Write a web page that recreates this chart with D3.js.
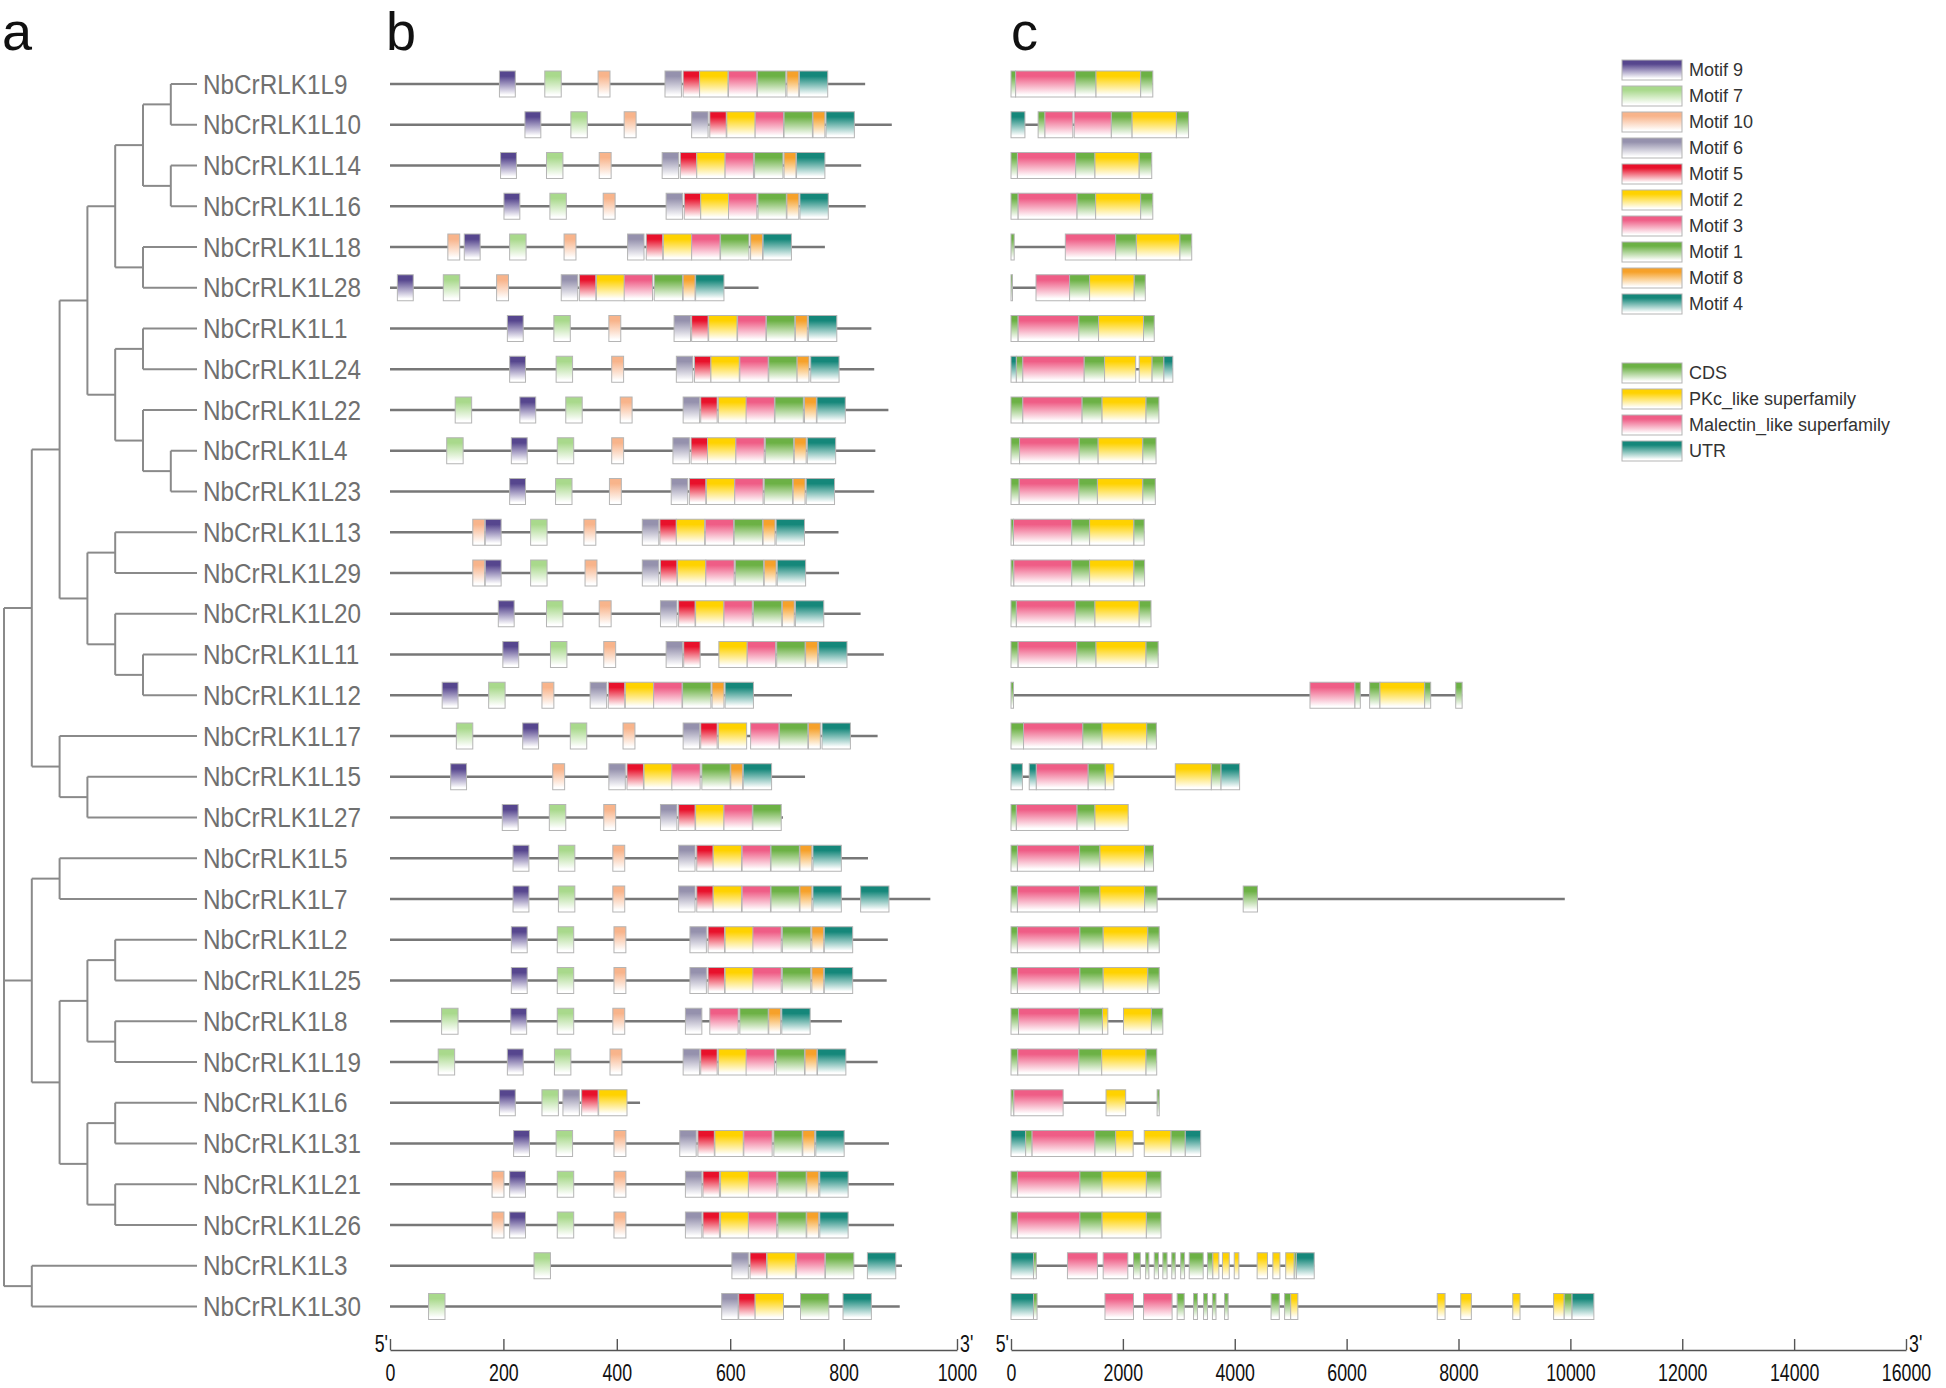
<!DOCTYPE html>
<html><head><meta charset="utf-8">
<script src="https://cdn.jsdelivr.net/npm/d3@7"></script>
<style>
body{margin:0;background:#fff}
svg{display:block}
text{font-family:"Liberation Sans",Arial,Helvetica,sans-serif}
</style>
</head><body>
<svg id="chart" width="1946" height="1388"></svg>
<script>
// ---------------- DATA ----------------
const genes = ["NbCrRLK1L9","NbCrRLK1L10","NbCrRLK1L14","NbCrRLK1L16","NbCrRLK1L18","NbCrRLK1L28",
  "NbCrRLK1L1","NbCrRLK1L24","NbCrRLK1L22","NbCrRLK1L4","NbCrRLK1L23","NbCrRLK1L13","NbCrRLK1L29",
  "NbCrRLK1L20","NbCrRLK1L11","NbCrRLK1L12","NbCrRLK1L17","NbCrRLK1L15","NbCrRLK1L27","NbCrRLK1L5",
  "NbCrRLK1L7","NbCrRLK1L2","NbCrRLK1L25","NbCrRLK1L8","NbCrRLK1L19","NbCrRLK1L6","NbCrRLK1L31",
  "NbCrRLK1L21","NbCrRLK1L26","NbCrRLK1L3","NbCrRLK1L30"];

// tree topology (numbers = NbCrRLK1L<n>)
const treeTopology = [
  [[[[[[9,10],[14,16]],[18,28]],[[1,24],[22,[4,23]]]],[[13,29],[20,[11,12]]]],[17,[15,27]]],
  [[5,7],[[[2,25],[8,19]],[[6,31],[21,26]]]],
  [3,30]
];

// panel b: protein lengths (aa) and motif sites [motif, start]
const proteinLength = [838,885,831,839,767,650,849,854,879,856,854,791,792,830,871,709,860,732,693,843,953,878,876,797,860,441,880,889,889,903,899];
const motifNames = ["Motif 9","Motif 7","Motif 10","Motif 6","Motif 5","Motif 2","Motif 3","Motif 1","Motif 8","Motif 4"];
const motifIds   = [9,7,10,6,5,2,3,1,8,4];
const motifColors = ["#56468e","#a9d98c","#f8b48b","#9591ad","#e8112b","#ffd200","#ef5d86","#6cb145","#f6a12a","#15877a"];
const motifWidth = {1:50,2:50,3:50,4:50,5:29,6:29,7:29,8:21,9:28,10:21};
const motifSites = [
  [[9,193],[7,273],[10,367],[6,485],[5,517],[2,546],[3,597],[1,648],[8,700],[4,722]],
  [[9,238],[7,319],[10,413],[6,532],[5,564],[2,594],[3,644],[1,695],[8,746],[4,769]],
  [[9,195],[7,276],[10,369],[6,480],[5,512],[2,541],[3,591],[1,643],[8,695],[4,717]],
  [[9,201],[7,282],[10,376],[6,487],[5,519],[2,548],[3,597],[1,649],[8,700],[4,723]],
  [[10,102],[9,131],[7,211],[10,307],[6,419],[5,452],[2,482],[3,532],[1,583],[8,636],[4,658]],
  [[9,13],[7,94],[10,188],[6,302],[5,334],[2,364],[3,413],[1,466],[8,517],[4,539]],
  [[9,207],[7,289],[10,386],[6,501],[5,532],[2,562],[3,613],[1,664],[8,715],[4,738]],
  [[9,211],[7,293],[10,391],[6,505],[5,537],[2,566],[3,617],[1,668],[8,718],[4,742]],
  [[7,115],[9,229],[7,310],[10,406],[6,517],[5,548],[2,579],[3,628],[1,679],[8,731],[4,753]],
  [[7,100],[9,214],[7,295],[10,391],[6,499],[5,531],[2,560],[3,610],[1,662],[8,713],[4,736]],
  [[9,211],[7,292],[10,387],[6,496],[5,528],[2,558],[3,608],[1,660],[8,711],[4,734]],
  [[10,146],[9,168],[7,248],[10,342],[6,445],[5,476],[2,505],[3,556],[1,607],[8,658],[4,681]],
  [[10,146],[9,168],[7,248],[10,344],[6,445],[5,477],[2,507],[3,557],[1,609],[8,660],[4,683]],
  [[9,191],[7,276],[10,369],[6,477],[5,509],[2,539],[3,589],[1,641],[8,692],[4,715]],
  [[9,199],[7,283],[10,377],[6,487],[5,518],[2,580],[3,630],[1,682],[8,733],[4,756]],
  [[9,92],[7,174],[10,268],[6,353],[5,385],[2,415],[3,465],[1,516],[8,568],[4,591]],
  [[7,117],[9,234],[7,318],[10,411],[6,517],[5,548],[2,579],[3,636],[1,687],[8,738],[4,762]],
  [[9,107],[10,287],[6,386],[5,418],[2,448],[3,497],[1,550],[8,601],[4,623]],
  [[9,198],[7,281],[10,377],[6,477],[5,509],[2,539],[3,589],[1,640]],
  [[9,217],[7,297],[10,393],[6,509],[5,541],[2,570],[3,621],[1,672],[8,723],[4,746]],
  [[9,217],[7,297],[10,393],[6,509],[5,541],[2,570],[3,621],[1,672],[8,723],[4,746],[4,830]],
  [[9,214],[7,295],[10,395],[6,529],[5,561],[2,591],[3,640],[1,692],[8,744],[4,766]],
  [[9,214],[7,295],[10,395],[6,529],[5,561],[2,591],[3,640],[1,692],[8,744],[4,766]],
  [[7,91],[9,213],[7,295],[10,393],[6,521],[3,564],[1,617],[8,668],[4,691]],
  [[7,85],[9,207],[7,290],[10,388],[6,517],[5,548],[2,579],[3,628],[1,681],[8,732],[4,754]],
  [[9,193],[7,268],[6,305],[5,338],[2,368]],
  [[9,218],[7,293],[10,395],[6,511],[5,543],[2,573],[3,624],[1,677],[8,728],[4,751]],
  [[10,180],[9,211],[7,295],[10,395],[6,521],[5,552],[2,583],[3,632],[1,684],[8,735],[4,758]],
  [[10,180],[9,211],[7,295],[10,395],[6,521],[5,552],[2,583],[3,632],[1,684],[8,735],[4,758]],
  [[7,254],[6,603],[5,635],[2,665],[3,717],[1,768],[4,842]],
  [[7,68],[6,585],[5,615],[2,644],[1,724],[4,799]]
];

// panel c: gene lengths (bp) and features [start, end, type]  C=CDS U=UTR M=Malectin P=PKc
const geneLength = [2535,3174,2516,2535,3231,2401,2561,2893,2644,2593,2580,2382,2388,2503,2631,8065,2599,4087,2095,2548,9900,2650,2650,2714,2605,2650,3391,2682,2682,5421,10420];
const featureNames = ["CDS","PKc_like superfamily","Malectin_like superfamily","UTR"];
const featureTypes = ["C","P","M","U"];
const featureColors = ["#6cb145","#ffd200","#ef5d86","#15877a"];
const geneFeatures = [
  [[0,83,"C"],[83,1149,"M"],[1149,1520,"C"],[1520,2318,"P"],[2318,2535,"C"]],
  [[0,249,"U"],[485,607,"C"],[607,1105,"M"],[1130,1794,"M"],[1794,2165,"C"],[2165,2957,"P"],[2957,3174,"C"]],
  [[0,115,"C"],[115,1156,"M"],[1156,1501,"C"],[1501,2292,"P"],[2292,2516,"C"]],
  [[0,128,"C"],[128,1181,"M"],[1181,1513,"C"],[1513,2318,"P"],[2318,2535,"C"]],
  [[0,57,"C"],[971,1871,"M"],[1871,2241,"C"],[2241,3020,"P"],[3020,3231,"C"]],
  [[0,20,"C"],[447,1047,"M"],[1047,1405,"C"],[1405,2203,"P"],[2203,2401,"C"]],
  [[0,128,"C"],[128,1213,"M"],[1213,1565,"C"],[1565,2369,"P"],[2369,2561,"C"]],
  [[0,96,"U"],[96,211,"C"],[211,1309,"M"],[1309,1673,"C"],[1673,2229,"P"],[2292,2522,"P"],[2522,2733,"C"],[2733,2893,"U"]],
  [[0,211,"C"],[211,1271,"M"],[1271,1628,"C"],[1628,2414,"P"],[2414,2644,"C"]],
  [[0,153,"C"],[153,1220,"M"],[1220,1558,"C"],[1558,2356,"P"],[2356,2593,"C"]],
  [[0,147,"C"],[147,1213,"M"],[1213,1545,"C"],[1545,2356,"P"],[2356,2580,"C"]],
  [[0,45,"C"],[45,1086,"M"],[1086,1405,"C"],[1405,2197,"P"],[2197,2382,"C"]],
  [[0,51,"C"],[51,1086,"M"],[1086,1405,"C"],[1405,2197,"P"],[2197,2388,"C"]],
  [[0,96,"C"],[96,1149,"M"],[1149,1501,"C"],[1501,2292,"P"],[2292,2503,"C"]],
  [[0,128,"C"],[128,1175,"M"],[1175,1520,"C"],[1520,2414,"P"],[2414,2631,"C"]],
  [[0,45,"C"],[5345,6149,"M"],[6149,6245,"C"],[6411,6596,"C"],[6596,7395,"P"],[7395,7503,"C"],[7950,8065,"C"]],
  [[0,224,"C"],[224,1284,"M"],[1284,1628,"C"],[1628,2426,"P"],[2426,2599,"C"]],
  [[0,204,"U"],[326,453,"U"],[453,1380,"M"],[1380,1686,"C"],[1686,1839,"P"],[2937,3582,"P"],[3582,3755,"C"],[3755,4087,"U"]],
  [[0,96,"C"],[96,1181,"M"],[1181,1501,"C"],[1501,2095,"P"]],
  [[0,115,"C"],[115,1226,"M"],[1226,1590,"C"],[1590,2388,"P"],[2388,2548,"C"]],
  [[0,115,"C"],[115,1226,"M"],[1226,1590,"C"],[1590,2388,"P"],[2388,2612,"C"],[4151,4406,"C"]],
  [[0,115,"C"],[115,1232,"M"],[1232,1648,"C"],[1648,2446,"P"],[2446,2650,"C"]],
  [[0,115,"C"],[115,1232,"M"],[1232,1648,"C"],[1648,2446,"P"],[2446,2650,"C"]],
  [[0,134,"C"],[134,1220,"M"],[1220,1635,"C"],[1635,1731,"P"],[2011,2510,"P"],[2510,2714,"C"]],
  [[0,121,"C"],[121,1213,"M"],[1213,1622,"C"],[1622,2414,"P"],[2414,2605,"C"]],
  [[0,51,"C"],[51,932,"M"],[1699,2050,"P"],[2612,2650,"C"]],
  [[0,262,"U"],[262,377,"C"],[377,1501,"M"],[1501,1871,"C"],[1871,2184,"P"],[2382,2861,"P"],[2861,3116,"C"],[3116,3391,"U"]],
  [[0,115,"C"],[115,1232,"M"],[1232,1628,"C"],[1628,2420,"P"],[2420,2682,"C"]],
  [[0,115,"C"],[115,1232,"M"],[1232,1628,"C"],[1628,2420,"P"],[2420,2682,"C"]],
  [[0,402,"U"],[402,453,"C"],[1009,1545,"M"],[1648,2088,"M"],[2190,2312,"C"],[2407,2465,"C"],[2561,2637,"C"],[2714,2790,"C"],[2874,2937,"C"],[3033,3103,"C"],[3186,3436,"C"],[3512,3608,"C"],[3608,3716,"P"],[3780,3902,"P"],[3991,4074,"P"],[4400,4585,"P"],[4681,4808,"P"],[4911,5064,"P"],[5064,5102,"C"],[5102,5421,"U"]],
  [[0,402,"U"],[402,466,"C"],[1680,2190,"M"],[2369,2880,"M"],[2970,3097,"C"],[3263,3333,"C"],[3442,3512,"C"],[3601,3665,"C"],[3818,3882,"C"],[4649,4796,"C"],[4891,5000,"C"],[5000,5128,"P"],[7620,7760,"P"],[8040,8230,"P"],[8970,9100,"P"],[9700,9890,"P"],[9890,10030,"C"],[10030,10420,"U"]]
];

const motifTicks = [0,200,400,600,800,1000];
const geneTicks = [0,2000,4000,6000,8000,10000,12000,14000,16000];

// ---------------- LAYOUT ----------------
const svg = d3.select("#chart");
const y = d3.scalePoint().domain(genes).range([84, 84 + 30*40.75]);
const xB = d3.scaleLinear().domain([0,1000]).range([390,957]);
const xC = d3.scaleLinear().domain([0,16000]).range([1011,1906]);
const boxH = 26;
const axisY = 1350;
const lineColor = "#777";

// gradients
const defs = svg.append("defs");
const allColors = Array.from(new Set(motifColors.concat(featureColors)));
const gid = c => "g" + c.slice(1);
allColors.forEach(c => {
  const lg = defs.append("linearGradient").attr("id", gid(c)).attr("x1",0).attr("y1",0).attr("x2",0).attr("y2",1);
  lg.append("stop").attr("offset","0").attr("stop-color",c);
  lg.append("stop").attr("offset","0.2").attr("stop-color",c);
  lg.append("stop").attr("offset","0.92").attr("stop-color","#ffffff");
  lg.append("stop").attr("offset","1").attr("stop-color","#ffffff");
});
const motifColor = m => motifColors[motifIds.indexOf(m)];
const featColor = t => featureColors[featureTypes.indexOf(t)];

// panel letters
[["a",2],["b",386],["c",1011]].forEach(([t,x]) => {
  svg.append("text").attr("x",x).attr("y",50).attr("font-size",54).attr("fill","#111").text(t);
});

// ---------------- TREE ----------------
const root = d3.hierarchy(treeTopology, d => Array.isArray(d) ? d : null);
const leafX = 197, depthStep = 27.8, rootX = 4;
root.eachAfter(n => {
  if (!n.children) { n.py = y("NbCrRLK1L" + n.data); n.px = leafX; }
  else {
    n.py = (n.children[0].py + n.children[n.children.length-1].py) / 2;
    n.px = rootX + depthStep * n.depth;
  }
});
const treeG = svg.append("g").attr("stroke","#8a8a8a").attr("stroke-width",2).attr("fill","none");
root.descendants().filter(n => n.children).forEach(n => {
  treeG.append("line").attr("x1",n.px).attr("x2",n.px)
    .attr("y1",n.children[0].py).attr("y2",n.children[n.children.length-1].py);
  n.children.forEach(c => {
    treeG.append("line").attr("x1",n.px).attr("x2",c.px).attr("y1",c.py).attr("y2",c.py);
  });
});
svg.append("g").selectAll("text").data(genes).join("text")
  .attr("transform", d => `translate(203,${y(d)}) scale(0.9,1)`)
  .attr("dy","0.36em").attr("font-size",27).attr("fill","#707070").text(d => d);

// ---------------- PANEL B ----------------
const rowsB = svg.append("g").selectAll("g").data(genes).join("g")
  .attr("transform", d => `translate(0,${y(d)})`);
rowsB.append("line").attr("x1",xB(0)).attr("x2",(d,i) => xB(proteinLength[i]))
  .attr("stroke",lineColor).attr("stroke-width",2.6);
rowsB.each(function(d,i){
  d3.select(this).selectAll("rect").data(motifSites[i]).join("rect")
    .attr("x", s => xB(s[1])).attr("width", s => xB(s[1]+motifWidth[s[0]]) - xB(s[1]))
    .attr("y",-boxH/2).attr("height",boxH)
    .attr("fill", s => `url(#${gid(motifColor(s[0]))})`)
    .attr("stroke","#b5b5b5").attr("stroke-width",1);
});

// ---------------- PANEL C ----------------
const rowsC = svg.append("g").selectAll("g").data(genes).join("g")
  .attr("transform", d => `translate(0,${y(d)})`);
rowsC.append("line").attr("x1",xC(0)).attr("x2",(d,i) => xC(geneLength[i]))
  .attr("stroke",lineColor).attr("stroke-width",2.6);
rowsC.each(function(d,i){
  d3.select(this).selectAll("rect").data(geneFeatures[i]).join("rect")
    .attr("x", s => xC(s[0])).attr("width", s => Math.max(1.5, xC(s[1]) - xC(s[0])))
    .attr("y",-boxH/2).attr("height",boxH)
    .attr("fill", s => `url(#${gid(featColor(s[2]))})`)
    .attr("stroke","#b5b5b5").attr("stroke-width",1);
});

// ---------------- AXES ----------------
function drawAxis(scale, ticks) {
  const g = svg.append("g").attr("transform",`translate(0,${axisY})`)
    .call(d3.axisBottom(scale).tickValues(ticks).tickFormat(d3.format("d"))
      .tickSizeInner(-11).tickSizeOuter(0).tickPadding(14));
  g.select(".domain").attr("stroke","#555").attr("stroke-width",1.6);
  g.selectAll(".tick line").attr("stroke","#555").attr("stroke-width",1.4);
  g.selectAll(".tick text").attr("font-size",24).attr("fill","#111")
    .attr("font-family","'Liberation Sans',Arial,sans-serif")
    .attr("transform","scale(0.74,1)");
  const r = scale.range();
  svg.append("text").attr("transform",`translate(${r[0]-2},${axisY+2}) scale(0.74,1)`)
    .attr("text-anchor","end").attr("font-size",24).attr("fill","#111").text("5'");
  svg.append("text").attr("transform",`translate(${r[1]+3},${axisY+2}) scale(0.74,1)`)
    .attr("text-anchor","start").attr("font-size",24).attr("fill","#111").text("3'");
}
drawAxis(xB, motifTicks);
drawAxis(xC, geneTicks);

// ---------------- LEGEND ----------------
const legX = 1622, swW = 60, swH = 20, legStep = 26;
const leg1 = svg.append("g").selectAll("g").data(motifNames).join("g")
  .attr("transform",(d,i) => `translate(${legX},${60 + i*legStep})`);
leg1.append("rect").attr("width",swW).attr("height",swH)
  .attr("fill",(d,i) => `url(#${gid(motifColors[i])})`).attr("stroke","#b5b5b5");
leg1.append("text").attr("x",swW+7).attr("y",swH/2).attr("dy","0.36em")
  .attr("font-size",18).attr("fill","#333").text(d => d);
const leg2 = svg.append("g").selectAll("g").data(featureNames).join("g")
  .attr("transform",(d,i) => `translate(${legX},${363 + i*legStep})`);
leg2.append("rect").attr("width",swW).attr("height",swH)
  .attr("fill",(d,i) => `url(#${gid(featureColors[i])})`).attr("stroke","#b5b5b5");
leg2.append("text").attr("x",swW+7).attr("y",swH/2).attr("dy","0.36em")
  .attr("font-size",18).attr("fill","#333").text(d => d);
</script>
</body></html>
